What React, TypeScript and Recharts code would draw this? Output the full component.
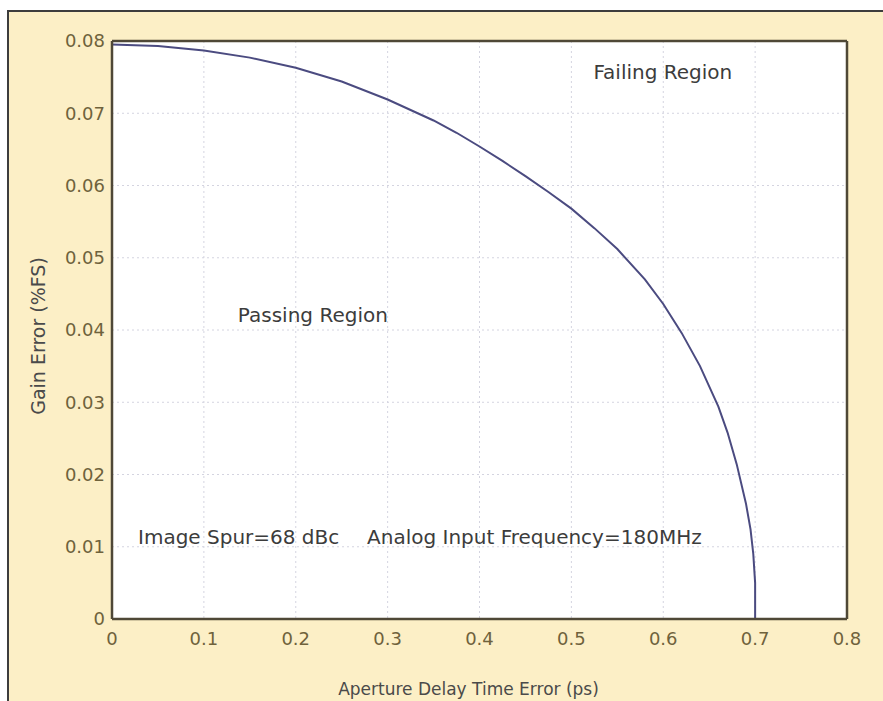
import { CartesianGrid, Line, LineChart, ReferenceDot, ReferenceLine, XAxis, YAxis } from "recharts";

const delayError = [0, 0.05, 0.1, 0.15, 0.2, 0.25, 0.3, 0.35, 0.375, 0.4, 0.425, 0.45, 0.475, 0.5, 0.525, 0.55, 0.58, 0.6, 0.62, 0.64, 0.66, 0.67, 0.68, 0.69, 0.695, 0.698, 0.7, 0.7];
const gainError = [0.0795, 0.0793, 0.0787, 0.0777, 0.0763, 0.0744, 0.0719, 0.069, 0.0673, 0.0654, 0.0634, 0.0613, 0.0591, 0.0568, 0.0541, 0.0512, 0.047, 0.0436, 0.0396, 0.035, 0.0294, 0.0258, 0.0214, 0.016, 0.0124, 0.009, 0.005, 0];
const xTicks = [0, 0.1, 0.2, 0.3, 0.4, 0.5, 0.6, 0.7, 0.8];
const yTicks = [0, 0.01, 0.02, 0.03, 0.04, 0.05, 0.06, 0.07, 0.08];
const notes = [
  { text: "Failing Region", x: 0.524, y: 0.0757 },
  { text: "Passing Region", x: 0.137, y: 0.0421 },
  { text: "Image Spur=68 dBc", x: 0.0283, y: 0.0114 },
  { text: "Analog Input Frequency=180MHz", x: 0.2776, y: 0.0114 },
];

const font = "'DejaVu Sans', Arial, sans-serif";
const frame = "#4f4837";
const tickColor = "#6f623c";

export default function App() {
  const data = delayError.map((x, i) => ({ x, gain: gainError[i] }));
  return (
    <div style={{ position: "relative", width: 883, height: 701, background: "#fff", fontFamily: font }}>
      <style>{`body{margin:0}`}</style>
      <div style={{ position: "absolute", left: 7, top: 10, right: 0, bottom: 0, background: "#fcefc6", borderLeft: "2px solid #3d3d3d", borderTop: "2px solid #3d3d3d" }} />
      <div style={{ position: "absolute", left: 0, top: 0 }}>
        <LineChart width={883} height={701} data={data} margin={{ top: 41, right: 36, bottom: 0, left: 0 }}>
          <CartesianGrid fill="#ffffff" stroke="#d4d4e0" strokeDasharray="2 3" />
          <XAxis
            dataKey="x"
            type="number"
            domain={[0, 0.8]}
            ticks={xTicks}
            height={82}
            tickLine={false}
            axisLine={{ stroke: frame, strokeWidth: 2.5 }}
            tick={{ fill: tickColor, fontSize: 18, fontFamily: font }}
            tickMargin={7}
            label={{ value: "Aperture Delay Time Error (ps)", position: "insideBottom", offset: 6, dx: -11, fill: "#4a4a4a", fontSize: 17, fontFamily: font }}
          />
          <YAxis
            type="number"
            domain={[0, 0.08]}
            ticks={yTicks}
            width={112}
            tickLine={false}
            axisLine={{ stroke: frame, strokeWidth: 2.5 }}
            tick={{ fill: tickColor, fontSize: 18, fontFamily: font }}
            tickMargin={1}
            label={{
              content: (props: any) => {
                const vb = props.viewBox;
                const cx = vb.x + 38;
                const cy = vb.y + vb.height / 2 + 6;
                return (
                  <text x={cx} y={cy} transform={`rotate(-90 ${cx} ${cy})`} textAnchor="middle" dominantBaseline="central" fill="#4a4a4a" fontSize={19} fontFamily={font}>
                    Gain Error (%FS)
                  </text>
                );
              },
            }}
          />
          <ReferenceLine x={0.8} stroke={frame} strokeWidth={2.5} />
          <ReferenceLine y={0.08} stroke={frame} strokeWidth={2.5} />
          <Line dataKey="gain" type="linear" stroke="#4b4b80" strokeWidth={2} dot={false} isAnimationActive={false} />
          {notes.map((n) => (
            <ReferenceDot
              key={n.text}
              x={n.x}
              y={n.y}
              r={0}
              fill="none"
              stroke="none"
              label={{ value: n.text, position: "right", offset: 0, fill: "#3c3c3c", fontSize: 20, fontFamily: font }}
            />
          ))}
        </LineChart>
      </div>
    </div>
  );
}
